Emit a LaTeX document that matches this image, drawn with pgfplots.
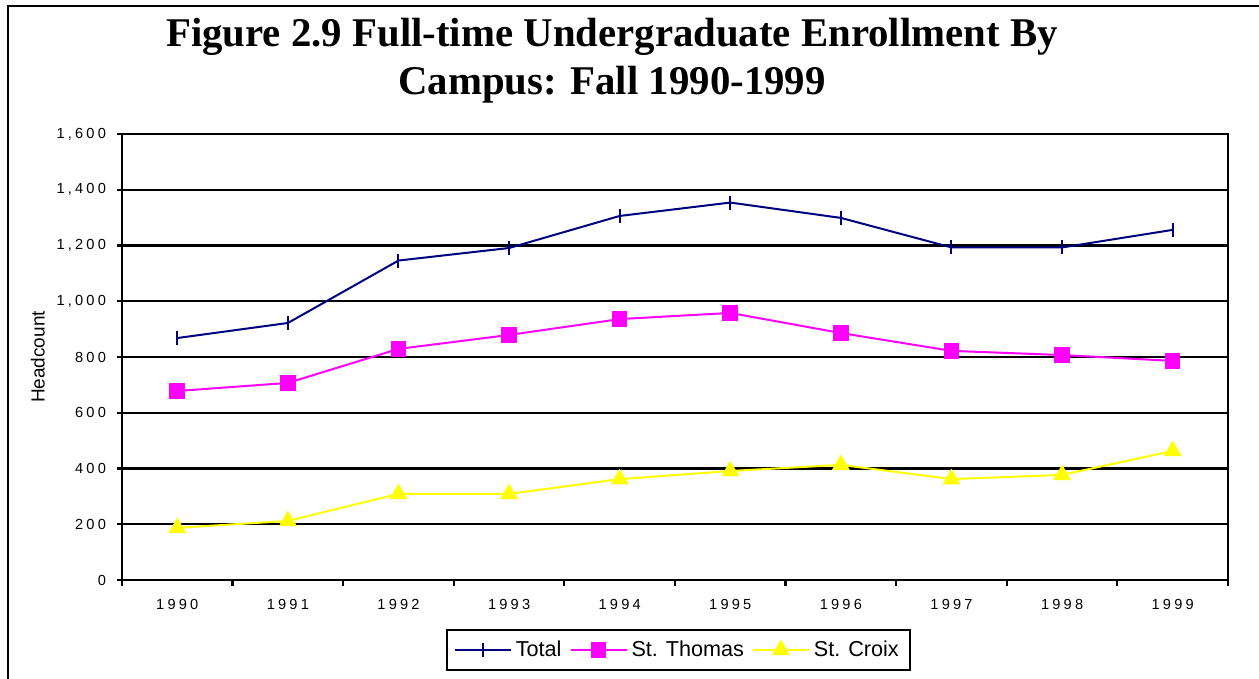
\documentclass[border=0pt]{standalone}
\usepackage{fontspec}
\setmainfont{Liberation Sans}
\newfontfamily\titlefont{Liberation Serif}
\newfontfamily\tickfont[LetterSpace=22]{Liberation Sans}
\usepackage{pgfplots}
\pgfplotsset{compat=1.18}
\definecolor{navyc}{RGB}{0,0,128}
\definecolor{magc}{RGB}{255,0,255}
\definecolor{yelc}{RGB}{255,255,0}
\begin{document}
\begin{tikzpicture}
\useasboundingbox (-61pt,-49.5pt) rectangle (568.5pt,290pt);
\draw[line width=1.1pt] (-57pt,-49.5pt) -- (-57pt,287pt) -- (568.5pt,287pt);
\node[font=\titlefont\bfseries\fontsize{20.4}{24}\selectfont, anchor=base] at (245pt,266.5pt) {Figure 2.9 Full-time Undergraduate Enrollment By};
\node[font=\titlefont\bfseries\fontsize{20.4}{24}\selectfont, anchor=base] at (245pt,242.5pt) {Campus: Fall 1990-1999};
\begin{axis}[
  scale only axis,
  width=553pt, height=223pt,
  xmin=-0.5, xmax=9.5,
  ymin=0, ymax=1600,
  ytick={0,200,...,1600},
  xtick={0,...,9},
  xticklabels={1990,1991,1992,1993,1994,1995,1996,1997,1998,1999},
  minor xtick={-0.5,0.5,...,9.5},
  major x tick style={draw=none},
  minor x tick style={black, line width=1.1pt},
  tick pos=left,
  tick align=outside,
  major tick length=2.5pt,
  minor tick length=3pt,
  ytick style={black, line width=1.1pt},
  ymajorgrids,
  grid style={black, line width=1.1pt},
  axis line style={black, line width=1.2pt},
  tick label style={font=\tickfont\fontsize{7.3}{8}\selectfont},
  /pgf/number format/assume math mode=true,
  /pgf/number format/1000 sep={,},
  scaled y ticks=false,
  yticklabel style={xshift=-2pt},
  xticklabel style={yshift=-3.5pt},
  ylabel={Headcount},
  ylabel style={font=\fontsize{9.5}{11}\selectfont, at={(rel axis cs:-0.076,0.5)}, anchor=center},
  legend columns=3,
  legend style={at={(rel axis cs:0.503,-0.157)}, anchor=center, draw=black, line width=1.1pt,
     font=\fontsize{10.8}{12}\selectfont, inner sep=3.5pt,
     /tikz/every even column/.append style={column sep=2pt}},
  legend image code/.code={\draw[#1, mark repeat=2, mark phase=2] plot coordinates {(0pt,0pt) (14pt,0pt) (28pt,0pt)};},
  clip=false,
]
\addplot[navyc, line width=1pt, mark=|, mark size=3.5pt, mark options={solid, line width=1pt}] coordinates {
(0,868) (1,922) (2,1146) (3,1191) (4,1306) (5,1354) (6,1299) (7,1193) (8,1193) (9,1256)};
\addlegendentry{Total}
\addplot[magc, line width=1pt, mark=square*, mark size=3.4pt, mark options={solid, fill=magc}] coordinates {
(0,678) (1,707) (2,829) (3,879) (4,936) (5,958) (6,886) (7,822) (8,807) (9,786)};
\addlegendentry{St. Thomas}
\addplot[yelc, line width=1pt, mark=triangle*, mark size=4.2pt, mark options={solid, fill=yelc}] coordinates {
(0,187) (1,212) (2,309) (3,309) (4,362) (5,391) (6,413) (7,362) (8,377) (9,463)};
\addlegendentry{St. Croix}
\end{axis}
\end{tikzpicture}
\end{document}
